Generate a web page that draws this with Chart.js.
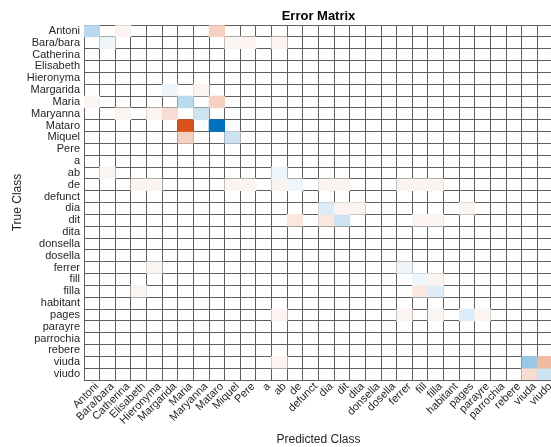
<!DOCTYPE html>
<html>
<head>
<meta charset="utf-8">
<script src="https://cdn.jsdelivr.net/npm/chart.js@4/dist/chart.umd.min.js"></script>
<style>
  html, body { margin: 0; padding: 0; overflow: hidden; background: #fff; }
  canvas { display: block; }
</style>
</head>
<body>
<canvas id="chart" width="560" height="447"></canvas>
<script>
// Class labels (same order on both axes)
const classNames = [
  'Antoni', 'Bara/bara', 'Catherina', 'Elisabeth', 'Hieronyma', 'Margarida',
  'Maria', 'Maryanna', 'Mataro', 'Miquel', 'Pere', 'a', 'ab', 'de', 'defunct',
  'dia', 'dit', 'dita', 'donsella', 'dosella', 'ferrer', 'fill', 'filla',
  'habitant', 'pages', 'parayre', 'parrochia', 'rebere', 'viuda', 'viudo'
];

// Non-zero cells of the confusion matrix: true class, predicted class, count
const trueLabels = [
  'Antoni', 'Antoni', 'Antoni',
  'Bara/bara', 'Bara/bara', 'Bara/bara', 'Bara/bara',
  'Margarida', 'Margarida',
  'Maria', 'Maria', 'Maria',
  'Maryanna', 'Maryanna', 'Maryanna', 'Maryanna',
  'Mataro', 'Mataro',
  'Miquel', 'Miquel',
  'ab', 'ab',
  'de', 'de', 'de', 'de', 'de', 'de', 'de', 'de', 'de', 'de', 'de',
  'dia', 'dia', 'dia', 'dia',
  'dit', 'dit', 'dit', 'dit', 'dit',
  'ferrer', 'ferrer',
  'fill', 'fill',
  'filla', 'filla', 'filla',
  'pages', 'pages', 'pages', 'pages', 'pages',
  'viuda', 'viuda', 'viuda',
  'viudo', 'viudo'
];
const predictedLabels = [
  'Antoni', 'Catherina', 'Mataro',
  'Bara/bara', 'Miquel', 'Pere', 'ab',
  'Margarida', 'Maryanna',
  'Antoni', 'Maria', 'Mataro',
  'Catherina', 'Hieronyma', 'Margarida', 'Maryanna',
  'Maria', 'Mataro',
  'Maria', 'Miquel',
  'Bara/bara', 'ab',
  'Elisabeth', 'Hieronyma', 'Miquel', 'Pere', 'ab', 'de', 'dia', 'dit', 'ferrer', 'fill', 'filla',
  'dia', 'dit', 'dita', 'pages',
  'de', 'dia', 'dit', 'fill', 'filla',
  'Hieronyma', 'ferrer',
  'fill', 'filla',
  'Elisabeth', 'fill', 'filla',
  'ab', 'ferrer', 'filla', 'pages', 'parayre',
  'ab', 'viuda', 'viudo',
  'viuda', 'viudo'
];
const cellCounts = [
  4, 1, 4,
  1, 1, 1, 1,
  1, 1,
  1, 4, 4,
  1, 1, 3, 3,
  15, 15,
  4, 3,
  1, 1,
  1, 1, 1, 1, 1, 1, 1, 1, 1, 1, 1,
  2, 1, 1, 1,
  2, 2, 3, 1, 1,
  1, 1,
  1, 1,
  1, 2, 2,
  1, 1, 1, 2, 1,
  1, 6, 6,
  3, 3
];

const FONT = '"Liberation Sans", Arial, Helvetica, sans-serif';
const GRID = '#5e5e5e';
const TEXT = '#262626';
const CORRECT_RGB = [0, 114, 189];   // diagonal (correct predictions)
const WRONG_RGB = [217, 83, 25];     // off-diagonal (errors)

const maxCount = Math.max(...cellCounts);
function shade(rgb, f) {
  const c = rgb.map(v => Math.round(255 + (v - 255) * f));
  return `rgb(${c[0]},${c[1]},${c[2]})`;
}

// One floating-bar dataset per true class; each bar spans one row [r, r+1]
const n = classNames.length;
const datasets = classNames.map(name => ({
  label: name,
  data: new Array(n).fill(null),
  backgroundColor: new Array(n).fill('rgba(0,0,0,0)'),
  borderWidth: 0,
  grouped: false,
  barPercentage: 1,
  categoryPercentage: 1,
  xAxisID: 'x',
  yAxisID: 'y'
}));
cellCounts.forEach((count, k) => {
  const r = classNames.indexOf(trueLabels[k]);
  const c = classNames.indexOf(predictedLabels[k]);
  datasets[r].data[c] = [r, r + 1];
  datasets[r].backgroundColor[c] = shade(r === c ? CORRECT_RGB : WRONG_RGB, count / maxCount);
});

new Chart(document.getElementById('chart'), {
  type: 'bar',
  data: { labels: classNames, datasets },
  options: {
    responsive: false,
    animation: false,
    events: [],
    layout: { padding: { left: 0, right: 7, top: 0, bottom: 0 } },
    plugins: {
      legend: { display: false },
      tooltip: { enabled: false },
      title: {
        display: true,
        text: 'Error Matrix',
        fullSize: false,
        color: '#000',
        font: { family: FONT, size: 13, weight: 'bold' },
        padding: { top: 9, bottom: 0.4 }
      }
    },
    scales: {
      x: {
        type: 'category',
        labels: classNames,
        offset: true,
        z: 1,
        grid: { offset: true, color: GRID, lineWidth: 1, drawTicks: false },
        border: { display: true, color: GRID },
        ticks: {
          autoSkip: false, minRotation: 45, maxRotation: 45, padding: 0, labelOffset: 5,
          color: TEXT, font: { family: FONT, size: 11 }
        },
        title: {
          display: true, text: 'Predicted Class', color: TEXT,
          font: { family: FONT, size: 12 }, padding: { top: 0, bottom: 0.5 }
        },
        afterFit(scale) { scale.height = 67; }
      },
      y: {
        type: 'linear',
        min: 0,
        max: n,
        reverse: true,
        stacked: false,
        z: 1,
        grid: { color: GRID, lineWidth: 1, drawTicks: false },
        border: { display: true, color: GRID },
        ticks: { display: false, autoSkip: false },
        afterBuildTicks(scale) {
          scale.ticks = Array.from({ length: n + 1 }, (_, i) => ({ value: i }));
        },
        afterFit(scale) { scale.width = 0; }
      },
      yLabels: {
        type: 'category',
        labels: classNames,
        position: 'left',
        offset: true,
        grid: { display: false, drawTicks: false },
        border: { display: false },
        ticks: { autoSkip: false, padding: 4, color: TEXT, font: { family: FONT, size: 11 } },
        title: {
          display: true, text: 'True Class', color: TEXT,
          font: { family: FONT, size: 12 }, padding: { top: 10, bottom: 0 }
        },
        afterFit(scale) { scale.width = 84; }
      }
    }
  }
});
</script>
</body>
</html>
